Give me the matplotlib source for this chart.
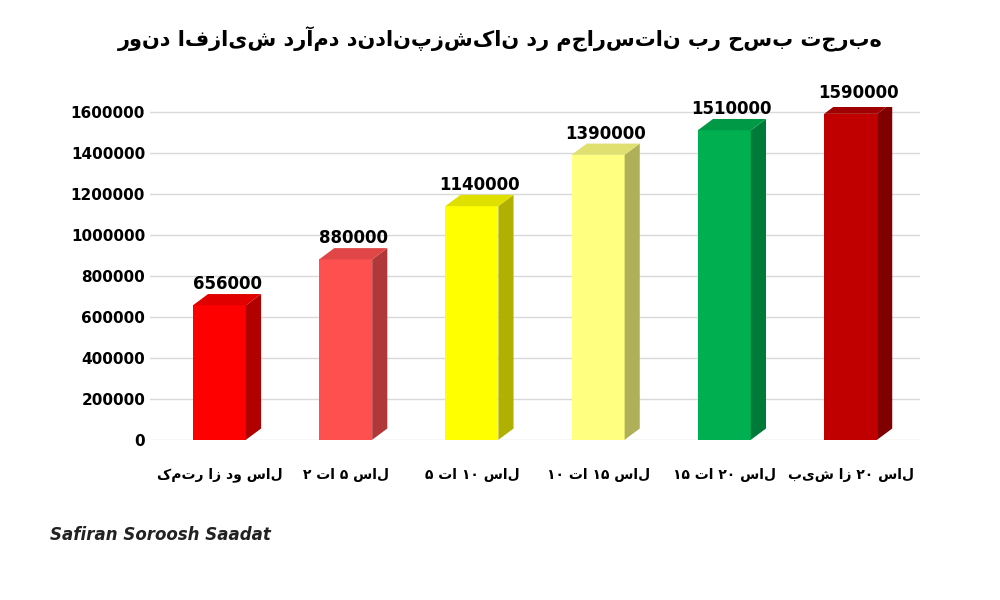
import matplotlib
matplotlib.use("Agg")
import matplotlib.pyplot as plt
from matplotlib.patches import Polygon
from matplotlib.ticker import FuncFormatter

categories = ["کمتر از دو سال", "۲ تا ۵ سال", "۵ تا ۱۰ سال", "۱۰ تا ۱۵ سال", "۱۵ تا ۲۰ سال", "بیش از ۲۰ سال"]
values = [656000, 880000, 1140000, 1390000, 1510000, 1590000]
front = ["#ff0000", "#ff5050", "#ffff00", "#ffff80", "#00b050", "#c00000"]
side = ["#b00000", "#b03838", "#b0b000", "#b0b058", "#007a38", "#800000"]
top = ["#e00000", "#e04646", "#e0e000", "#e0e070", "#009a46", "#a00000"]
title = "روند افزایش درآمد دندانپزشکان در مجارستان بر حسب تجربه"

plt.rcParams['font.family'] = ['DejaVu Sans']
fig = plt.figure(figsize=(10, 6), dpi=100)
ax = fig.add_axes([0.15, 0.267, 0.77, 0.555])
ax.set_xlim(-0.55, 5.55)
ax.set_ylim(0, 1600000 / 0.985)
ax.set_yticks(range(0, 1600001, 200000))
ax.yaxis.set_major_formatter(FuncFormatter(lambda v, p: f"{int(v)}"))
ax.tick_params(axis='y', labelsize=11, length=0)
for t in ax.get_yticklabels():
    t.set_fontweight('bold')
ax.set_xticks(range(len(categories)))
ax.set_xticklabels(categories, fontsize=10, fontweight='bold')
ax.tick_params(axis='x', length=0, pad=20)
ax.grid(axis='y', color='#d9d9d9', lw=1)
ax.set_axisbelow(True)
for s in ax.spines.values():
    s.set_visible(False)

w = 0.42; dx = 0.12; dy = 55000
for i, v in enumerate(values):
    x0, x1 = i - w/2, i + w/2
    ax.add_patch(Polygon([(x0, 0), (x1, 0), (x1, v), (x0, v)], closed=True, fc=front[i], ec='none'))
    ax.add_patch(Polygon([(x1, 0), (x1+dx, dy), (x1+dx, v+dy), (x1, v)], closed=True, fc=side[i], ec='none'))
    ax.add_patch(Polygon([(x0, v), (x1, v), (x1+dx, v+dy), (x0+dx, v+dy)], closed=True, fc=top[i], ec='none'))
    ax.text(i + dx/2, v + dy + 5000, str(v), ha='center', va='bottom', fontsize=12, fontweight='bold')

fig.text(0.5, 0.935, title, ha='center', va='center', fontsize=15, fontweight='bold')
fig.text(0.16, 0.1, "Safiran Soroosh Saadat", fontsize=12, fontweight='bold', style='italic', color='#222222', ha='center')
fig.savefig("out.png", dpi=100)
